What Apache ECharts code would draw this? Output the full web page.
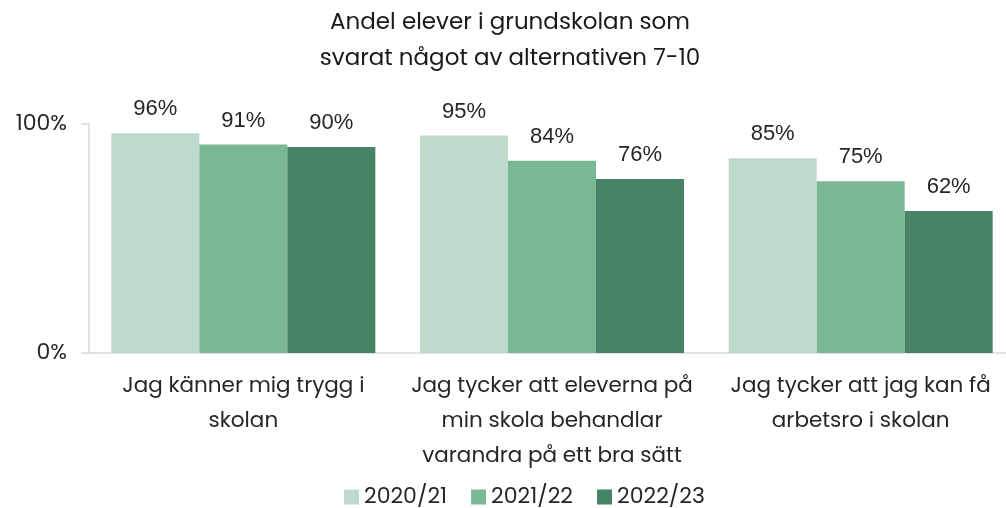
<!DOCTYPE html>
<html>
<head>
<meta charset="utf-8">
<script src="https://cdn.jsdelivr.net/npm/echarts@6/dist/echarts.min.js"></script>
<style>
  html, body { margin: 0; padding: 0; background: #fff; overflow: hidden; }
  /* the reference crops the plot on the right, so the canvas runs past the window */
  #chart { width: 1024px; height: 508px; }
</style>
</head>
<body>
<div id="chart"></div>
<script>
const categories = [
  'Jag känner mig trygg i\nskolan',
  'Jag tycker att eleverna på\nmin skola behandlar\nvarandra på ett bra sätt',
  'Jag tycker att jag kan få\narbetsro i skolan',
]
const years = ['2020/21', '2021/22', '2022/23']
const values2021 = [96, 95, 85]
const values2122 = [91, 84, 75]
const values2223 = [90, 76, 62]
const yTicks = [0, 100]

const colors = ['#bddacb', '#7ab795', '#478366']
const font = 'Poppins, Inter, "Noto Sans", sans-serif'

const chart = echarts.init(document.getElementById('chart'))

const option = {
  animation: false,
  color: colors,
  title: {
    text: 'Andel elever i grundskolan som\nsvarat något av alternativen 7-10',
    left: 505,
    textAlign: 'center',
    top: 0,
    textStyle: {
      fontFamily: font,
      fontSize: 23,
      fontWeight: 'normal',
      color: '#1a1a1a',
      lineHeight: 36,
    },
  },
  legend: {
    data: years,
    top: 481,
    left: 339,
    itemWidth: 15,
    itemHeight: 15,
    itemGap: 24,
    icon: 'rect',
    textStyle: { fontFamily: font, fontSize: 22, color: '#262626' },
  },
  grid: { left: 89, top: 124, width: 926, height: 229 },
  xAxis: {
    type: 'category',
    data: categories,
    axisLine: { lineStyle: { color: '#d9d9d9', width: 1.5 } },
    axisTick: { show: false },
    axisLabel: {
      interval: 0,
      hideOverlap: false,
      fontFamily: font,
      fontSize: 21.5,
      color: '#262626',
      lineHeight: 35,
      margin: 16,
    },
  },
  yAxis: {
    type: 'value',
    min: 0,
    max: 100,
    interval: 100,
    splitLine: { show: false },
    axisLine: { show: true, lineStyle: { color: '#d9d9d9', width: 1.5 } },
    axisTick: { show: true, length: 8, lineStyle: { color: '#d9d9d9', width: 1.5 } },
    axisLabel: {
      fontFamily: font,
      fontSize: 22,
      color: '#262626',
      margin: 22,
      formatter: (v) => (yTicks.includes(v) ? v + '%' : ''),
    },
  },
  series: [values2021, values2122, values2223].map((vals, i) => ({
    name: years[i],
    type: 'bar',
    data: vals,
    barWidth: 88,
    barGap: '0%',
    label: {
      show: true,
      position: 'top',
      distance: 13,
      fontFamily: 'Liberation Sans, Arial, sans-serif',
      fontSize: 22,
      color: '#262626',
      formatter: '{c}%',
    },
  })),
}

chart.setOption(option)
</script>
</body>
</html>
